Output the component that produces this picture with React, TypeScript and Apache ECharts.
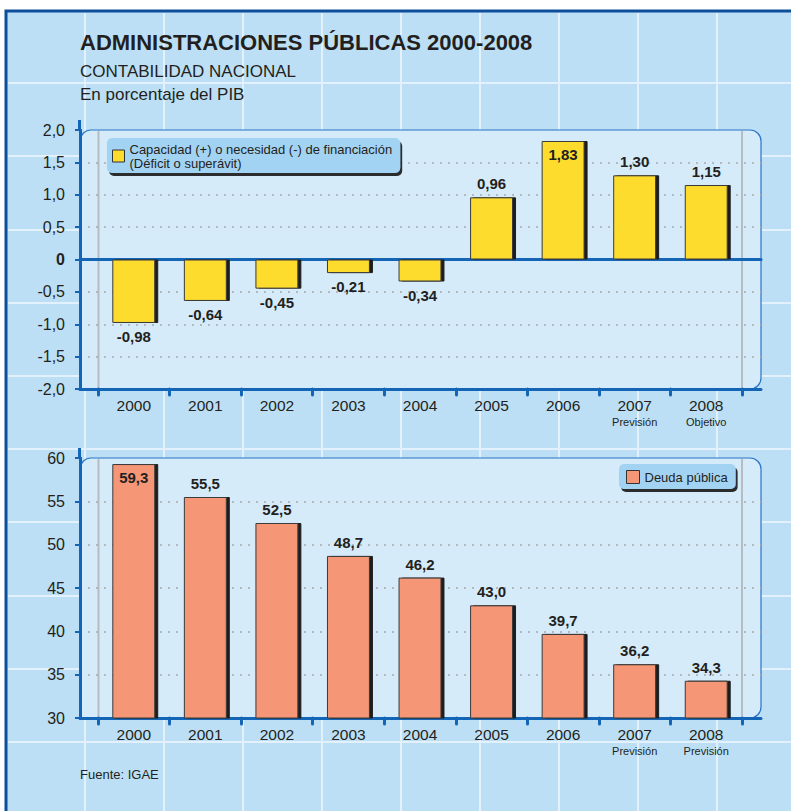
import React, { useEffect, useRef } from 'react';
import * as echarts from 'echarts';

// ---- data ----
const years = ['2000', '2001', '2002', '2003', '2004', '2005', '2006', '2007', '2008'];
const saldoSub = ['', '', '', '', '', '', '', 'Previsión', 'Objetivo'];
const deudaSub = ['', '', '', '', '', '', '', 'Previsión', 'Previsión'];
const saldo = [-0.98, -0.64, -0.45, -0.21, -0.34, 0.96, 1.83, 1.3, 1.15];
const deuda = [59.3, 55.5, 52.5, 48.7, 46.2, 43.0, 39.7, 36.2, 34.3];
const saldoAxis = { min: -2, max: 2, interval: 0.5 };
const deudaAxis = { min: 30, max: 60, interval: 5 };
const saldoName = 'Capacidad (+) o necesidad (-) de financiación';
const saldoNameSub = '(Déficit o superávit)';
const deudaName = 'Deuda pública';

// ---- style ----
const FONT = '"Liberation Sans", Arial, Helvetica, sans-serif';
const TEXT = '#231f20';
const BLUE = '#1465b5';
const BG = '#bcdff5';
const PANEL = '#d6ebf9';
const YELLOW = '#fedc2e';
const SALMON = '#f59677';

const comma = (v: number, d: number) => v.toFixed(d).replace('.', ',');

const labelPos = (v: number, min: number, max: number) => {
  if (v < 0) return 'bottom';
  if ((max - v) / (max - min) < 0.08) return 'insideTop';
  return 'top';
};

const catLabel = (sub: string[]) => ({
  margin: 8,
  interval: 0,
  color: TEXT,
  fontFamily: FONT,
  formatter: (value: string, index: number) =>
    sub[index] ? `{y|${value}}\n{s|${sub[index]}}` : `{y|${value}}`,
  rich: {
    y: { fontSize: 15.5, lineHeight: 17, color: TEXT, fontFamily: FONT },
    s: { fontSize: 11, lineHeight: 16, color: TEXT, fontFamily: FONT },
  },
});

const hiddenValueX = (gridIndex: number, position: string, onZero: boolean) => ({
  gridIndex,
  type: 'value',
  min: 0,
  max: 1,
  position,
  axisLine: { show: true, onZero, lineStyle: { color: BLUE, width: 3 } },
  axisTick: { show: false },
  axisLabel: { show: false },
  splitLine: { show: false },
});

const catX = (gridIndex: number, sub: string[]) => ({
  gridIndex,
  type: 'category',
  data: years,
  position: 'bottom',
  axisLine: { show: false, onZero: false },
  axisTick: { show: true, interval: 0, length: 6, lineStyle: { color: BLUE, width: 3, cap: 'round' } },
  axisLabel: catLabel(sub),
  splitLine: { show: false },
});

const visibleY = (gridIndex: number, ax: { min: number; max: number; interval: number }, fmt: (v: number) => string) => ({
  gridIndex,
  type: 'value',
  min: ax.min,
  max: ax.max,
  interval: ax.interval,
  axisLine: { show: true, onZero: false, lineStyle: { color: BLUE, width: 3 } },
  axisTick: { show: true, length: 5, lineStyle: { color: BLUE, width: 2 } },
  axisLabel: {
    margin: 15,
    fontSize: 16,
    color: TEXT,
    fontFamily: FONT,
    formatter: fmt,
    rich: { b: { fontSize: 16, fontWeight: 'bold', color: TEXT, fontFamily: FONT } },
  },
  splitLine: {
    show: true,
    showMinLine: false,
    showMaxLine: false,
    lineStyle: { color: '#a9a9a9', type: [2, 6], width: 1.5 },
  },
});

const hiddenY = (gridIndex: number, ax: { min: number; max: number }) => ({
  gridIndex,
  type: 'value',
  min: ax.min,
  max: ax.max,
  show: false,
  axisLine: { onZero: false },
});

const barItem = (color: string) => ({
  color,
  borderColor: '#3a3a3a',
  borderWidth: 1,
  shadowColor: '#1d1d1b',
  shadowOffsetX: 3,
  shadowOffsetY: 0,
  shadowBlur: 0,
});

const legendBase = {
  orient: 'horizontal',
  selectedMode: false,
  icon: 'rect',
  backgroundColor: '#a3d3f2',
  borderRadius: 5,
  shadowColor: 'rgba(20,20,20,0.9)',
  shadowOffsetX: 2,
  shadowOffsetY: 3,
  shadowBlur: 1,
  itemStyle: { borderColor: '#333', borderWidth: 1, shadowColor: 'transparent', shadowBlur: 0, shadowOffsetX: 0, shadowOffsetY: 0 },
  textStyle: { fontSize: 13, lineHeight: 14, color: TEXT, fontFamily: FONT },
};

function buildGraphic() {
  const els: any[] = [];
  els.push({
    type: 'rect',
    z: -30,
    shape: { x: 6, y: 11, width: 900, height: 900 },
    style: { fill: BG, stroke: '#0d4f9b', lineWidth: 3 },
  });
  for (let k = 1; k <= 9; k++) {
    const x = 6 + 79 * k;
    els.push({ type: 'line', z: -29, shape: { x1: x, y1: 13, x2: x, y2: 811 }, style: { stroke: '#e2f1fb', lineWidth: 2 } });
  }
  for (let k = 1; k <= 10; k++) {
    const y = Math.round(10 + 73.2 * k);
    els.push({ type: 'line', z: -29, shape: { x1: 8, y1: y, x2: 791, y2: y }, style: { stroke: '#e2f1fb', lineWidth: 2 } });
  }
  const panels = [
    { y: 130, h: 259 },
    { y: 458, h: 260 },
  ];
  panels.forEach((p) => {
    els.push({
      type: 'rect',
      z: -28,
      shape: { x: 80, y: p.y, width: 681, height: p.h, r: [11, 11, 11, 0] },
      style: { fill: PANEL, stroke: '#2a75c5', lineWidth: 1.2 },
    });
    [98.5, 742].forEach((x) => {
      els.push({ type: 'line', z: -27, shape: { x1: x, y1: p.y + 1, x2: x, y2: p.y + p.h - 1 }, style: { stroke: '#b7bcc0', lineWidth: 2 } });
    });
    els.push({ type: 'line', z: -27, shape: { x1: 79.5, y1: p.y - 10, x2: 79.5, y2: p.y + 1 }, style: { stroke: BLUE, lineWidth: 3 } });
  });
  return els;
}

const option: any = {
  animation: false,
  backgroundColor: '#ffffff',
  textStyle: { fontFamily: FONT },
  title: [
    {
      text: 'ADMINISTRACIONES PÚBLICAS 2000-2008',
      subtext: 'CONTABILIDAD NACIONAL\nEn porcentaje del PIB',
      left: 80,
      top: 31,
      padding: 0,
      itemGap: 7,
      textStyle: { fontSize: 22, fontWeight: 'bold', color: TEXT, lineHeight: 22, fontFamily: FONT },
      subtextStyle: { fontSize: 17, color: TEXT, lineHeight: 23, fontFamily: FONT },
    },
    {
      text: 'Fuente: IGAE',
      left: 80,
      top: 768,
      padding: 0,
      textStyle: { fontSize: 13, fontWeight: 'normal', color: TEXT, fontFamily: FONT },
    },
  ],
  legend: [
    {
      ...legendBase,
      data: [saldoName],
      formatter: (name: string) => `${name}\n${saldoNameSub}`,
      left: 107,
      top: 138,
      padding: [4, 8, 3, 5],
      itemWidth: 12,
      itemHeight: 12,
    },
    {
      ...legendBase,
      data: [deudaName],
      left: 619,
      top: 464,
      padding: [6, 8, 5, 7],
      itemWidth: 13,
      itemHeight: 13,
    },
  ],
  grid: [
    { left: 80, right: 30, top: 130, height: 259 },
    { left: 98, right: 49, top: 130, height: 259 },
    { left: 80, right: 30, top: 458, height: 260 },
    { left: 98, right: 49, top: 458, height: 260 },
  ],
  xAxis: [
    hiddenValueX(0, 'bottom', false),
    hiddenValueX(0, 'top', true),
    catX(1, saldoSub),
    hiddenValueX(2, 'bottom', false),
    catX(3, deudaSub),
  ],
  yAxis: [
    visibleY(0, saldoAxis, (v: number) => (v === 0 ? '{b|0}' : comma(v, 1))),
    hiddenY(1, saldoAxis),
    visibleY(2, deudaAxis, (v: number) => String(v)),
    hiddenY(3, deudaAxis),
  ],
  graphic: { elements: buildGraphic() },
  series: [
    {
      name: saldoName,
      type: 'bar',
      xAxisIndex: 2,
      yAxisIndex: 1,
      barWidth: '60%',
      itemStyle: barItem(YELLOW),
      label: {
        show: true,
        distance: 6,
        fontSize: 15,
        fontWeight: 'bold',
        color: TEXT,
        fontFamily: FONT,
        formatter: (p: any) => comma(p.value, 2),
      },
      data: saldo.map((v) => ({ value: v, label: { position: labelPos(v, saldoAxis.min, saldoAxis.max) } })),
    },
    {
      name: deudaName,
      type: 'bar',
      xAxisIndex: 4,
      yAxisIndex: 3,
      barWidth: '60%',
      itemStyle: barItem(SALMON),
      label: {
        show: true,
        distance: 6,
        fontSize: 15,
        fontWeight: 'bold',
        color: TEXT,
        fontFamily: FONT,
        formatter: (p: any) => comma(p.value, 1),
      },
      data: deuda.map((v) => ({ value: v, label: { position: labelPos(v, deudaAxis.min, deudaAxis.max) } })),
    },
  ],
};

export default function App() {
  const ref = useRef<HTMLDivElement>(null);
  useEffect(() => {
    if (!ref.current) return;
    const chart = echarts.init(ref.current, null, { renderer: 'svg' });
    chart.setOption(option);
    return () => chart.dispose();
  }, []);
  return (
    <div
      ref={ref}
      style={{ position: 'absolute', left: 0, top: 0, width: 791, height: 811 }}
    />
  );
}
